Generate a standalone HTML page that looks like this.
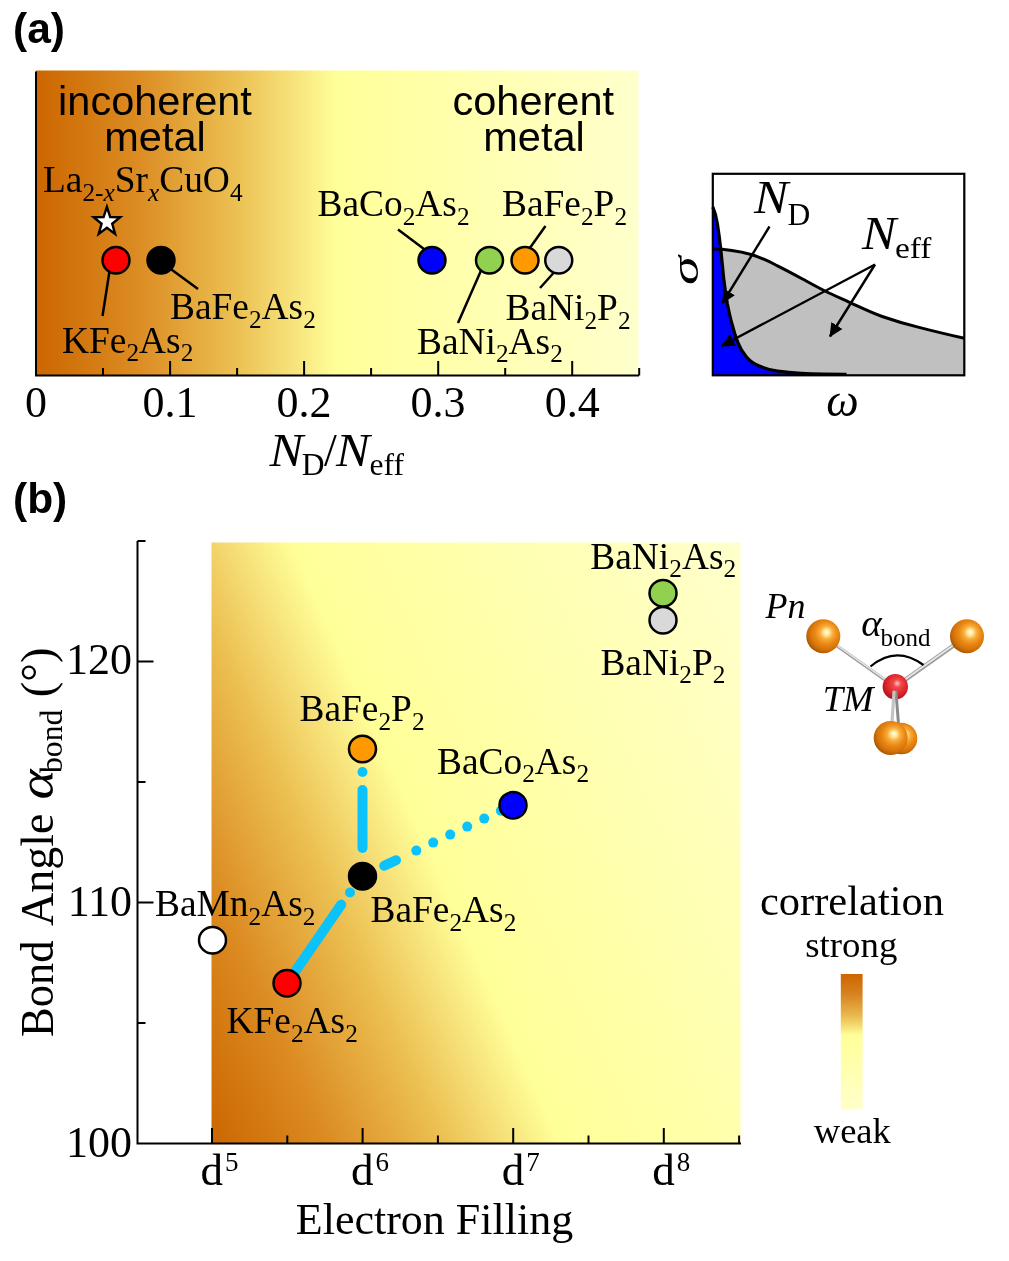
<!DOCTYPE html>
<html lang="en"><head><meta charset="utf-8"><title>Figure</title>
<style>
html,body{margin:0;padding:0;background:#fff}
svg{display:block}
text{font-family:'Liberation Serif', 'DejaVu Serif', serif;fill:#000}
.sans{font-family:'Liberation Sans', 'DejaVu Sans', sans-serif}
</style></head><body>
<svg width="1009" height="1261" viewBox="0 0 1009 1261">
<defs>
<linearGradient id="gA" gradientUnits="userSpaceOnUse" x1="36" y1="0" x2="638.5" y2="0"><stop offset="0" stop-color="#cc6600"/><stop offset="0.166" stop-color="#db8b22"/><stop offset="0.333" stop-color="#ecc052"/><stop offset="0.42" stop-color="#f6e078"/><stop offset="0.5" stop-color="#ffff99"/><stop offset="1" stop-color="#ffffcc"/></linearGradient>
<linearGradient id="gB" gradientUnits="userSpaceOnUse" x1="211.5" y1="1143.5" x2="875.9" y2="846.3"><stop offset="0.0000" stop-color="#cc6600"/><stop offset="0.1454" stop-color="#db8b22"/><stop offset="0.2917" stop-color="#ecc052"/><stop offset="0.3679" stop-color="#f6e078"/><stop offset="0.4380" stop-color="#ffff99"/><stop offset="1.0000" stop-color="#ffffcc"/></linearGradient>
<linearGradient id="gL" x1="0" y1="0" x2="0" y2="1"><stop offset="0" stop-color="#cc6600"/><stop offset="0.15" stop-color="#d78220"/><stop offset="0.3" stop-color="#e8b64c"/><stop offset="0.38" stop-color="#f4da72"/><stop offset="0.45" stop-color="#ffff99"/><stop offset="1" stop-color="#ffffcc"/></linearGradient>
<radialGradient id="sO" cx="0.58" cy="0.42" r="0.64" fx="0.6" fy="0.38">
<stop offset="0" stop-color="#fffde8"/><stop offset="0.13" stop-color="#ffe99c"/><stop offset="0.3" stop-color="#f8ac3a"/><stop offset="0.52" stop-color="#ea8814"/><stop offset="0.76" stop-color="#d4720a"/><stop offset="0.92" stop-color="#ae5a04"/><stop offset="1" stop-color="#884602"/></radialGradient>
<radialGradient id="sR" cx="0.55" cy="0.42" r="0.62" fx="0.58" fy="0.36">
<stop offset="0" stop-color="#ffc0c0"/><stop offset="0.25" stop-color="#f04848"/><stop offset="0.7" stop-color="#d82028"/><stop offset="1" stop-color="#a01018"/></radialGradient>
<marker id="ah" viewBox="0 0 14 14" refX="13" refY="7" markerWidth="14" markerHeight="14" markerUnits="userSpaceOnUse" orient="auto"><path d="M0,0.5 L14,7 L0,13.5 Z" fill="#000"/></marker>
</defs>
<rect x="0" y="0" width="1009" height="1261" fill="#fff"/>
<text class="sans" x="13" y="43" font-size="42.5" font-weight="bold">(a)</text>
<rect x="36" y="70.5" width="602.5" height="305.0" fill="url(#gA)"/>
<path d="M36,71.5 V375.5 H639.0" fill="none" stroke="#000" stroke-width="2"/>
<path d="M103.0,375.5 v-7.5 M170.1,375.5 v-14.5 M237.1,375.5 v-7.5 M304.1,375.5 v-14.5 M371.1,375.5 v-7.5 M438.2,375.5 v-14.5 M505.2,375.5 v-7.5 M572.2,375.5 v-14.5 M639.2,375.5 v-7.5 " stroke="#000" stroke-width="2" fill="none"/>
<text x="36.0" y="416.5" font-size="44" text-anchor="middle">0</text>
<text x="170.1" y="416.5" font-size="44" text-anchor="middle">0.1</text>
<text x="304.1" y="416.5" font-size="44" text-anchor="middle">0.2</text>
<text x="438.1" y="416.5" font-size="44" text-anchor="middle">0.3</text>
<text x="572.2" y="416.5" font-size="44" text-anchor="middle">0.4</text>
<text x="269.5" y="465.8" font-size="46" font-style="italic" textLength="33.7" lengthAdjust="spacingAndGlyphs" >N</text>
<text x="301.7" y="475.3" font-size="31.5" >D</text>
<text x="324" y="465.8" font-size="46" >/</text>
<text x="336" y="465.8" font-size="46" font-style="italic" textLength="33.7" lengthAdjust="spacingAndGlyphs" >N</text>
<text x="369.6" y="475.3" font-size="31.5" >eff</text>
<text class="sans" x="155" y="114.5" font-size="41.5" text-anchor="middle">incoherent</text>
<text class="sans" x="155" y="150.5" font-size="41.5" text-anchor="middle">metal</text>
<text class="sans" x="533.3" y="114.5" font-size="41.5" text-anchor="middle">coherent</text>
<text class="sans" x="534" y="150.5" font-size="41.5" text-anchor="middle">metal</text>
<line x1="110" y1="268" x2="102.5" y2="316" stroke="#000" stroke-width="2.5" />
<line x1="168" y1="267" x2="198" y2="289" stroke="#000" stroke-width="2.5" />
<line x1="398" y1="229.5" x2="428" y2="252" stroke="#000" stroke-width="2.5" />
<line x1="483" y1="266" x2="458" y2="323" stroke="#000" stroke-width="2.5" />
<line x1="527" y1="252" x2="545.5" y2="226" stroke="#000" stroke-width="2.5" />
<line x1="558" y1="268" x2="540" y2="288" stroke="#000" stroke-width="2.5" />
<ellipse cx="116" cy="260.3" rx="13.5" ry="13.2" fill="#ff0000" stroke="#000" stroke-width="2.5"/>
<ellipse cx="161" cy="260.3" rx="13.5" ry="13.2" fill="#000000" stroke="#000" stroke-width="2.5"/>
<ellipse cx="432" cy="260.3" rx="13.5" ry="13.2" fill="#0000ff" stroke="#000" stroke-width="2.5"/>
<ellipse cx="489.5" cy="260.3" rx="13.5" ry="13.2" fill="#92d050" stroke="#000" stroke-width="2.5"/>
<ellipse cx="525" cy="260.3" rx="13.5" ry="13.2" fill="#ff9900" stroke="#000" stroke-width="2.5"/>
<ellipse cx="558.75" cy="260.3" rx="13.5" ry="13.2" fill="#d9d9d9" stroke="#000" stroke-width="2.5"/>
<polygon points="106.9,206.8 110.2,217.0 120.2,217.2 112.2,223.7 115.1,233.9 106.9,227.8 98.7,233.9 101.6,223.7 93.6,217.2 103.6,217.0" fill="#fff" stroke="#000" stroke-width="2.4" stroke-linejoin="miter"/>
<text x="43" y="192" font-size="37.4" text-anchor="start" ><tspan>La</tspan><tspan dy="8.5" font-size="25.3">2-</tspan><tspan font-size="25.3" font-style="italic">x</tspan><tspan dy="-8.5" font-size="37.4">Sr</tspan><tspan dy="8.5" font-size="25.3" font-style="italic">x</tspan><tspan dy="-8.5" font-size="37.4">CuO</tspan><tspan dy="8.5" font-size="25.3">4</tspan></text>
<text x="62" y="352.5" font-size="37.4" text-anchor="start" ><tspan>KFe</tspan><tspan dy="8.5" font-size="25.3">2</tspan><tspan dy="-8.5" font-size="37.4">As</tspan><tspan dy="8.5" font-size="25.3">2</tspan></text>
<text x="170" y="319" font-size="37.4" text-anchor="start" ><tspan>BaFe</tspan><tspan dy="8.5" font-size="25.3">2</tspan><tspan dy="-8.5" font-size="37.4">As</tspan><tspan dy="8.5" font-size="25.3">2</tspan></text>
<text x="317.5" y="216" font-size="37.4" text-anchor="start" ><tspan>BaCo</tspan><tspan dy="8.5" font-size="25.3">2</tspan><tspan dy="-8.5" font-size="37.4">As</tspan><tspan dy="8.5" font-size="25.3">2</tspan></text>
<text x="502" y="216" font-size="37.4" text-anchor="start" ><tspan>BaFe</tspan><tspan dy="8.5" font-size="25.3">2</tspan><tspan dy="-8.5" font-size="37.4">P</tspan><tspan dy="8.5" font-size="25.3">2</tspan></text>
<text x="505.5" y="320" font-size="37.4" text-anchor="start" ><tspan>BaNi</tspan><tspan dy="8.5" font-size="25.3">2</tspan><tspan dy="-8.5" font-size="37.4">P</tspan><tspan dy="8.5" font-size="25.3">2</tspan></text>
<text x="417" y="353.5" font-size="37.4" text-anchor="start" ><tspan>BaNi</tspan><tspan dy="8.5" font-size="25.3">2</tspan><tspan dy="-8.5" font-size="37.4">As</tspan><tspan dy="8.5" font-size="25.3">2</tspan></text>
<rect x="712.8" y="173.8" width="251.5" height="201.5" fill="#fff"/>
<path d="M712.8,249 C722,249 735,250 752,254.8 C764,258.5 770,262 777.5,265.8 C790,272 797,276 806.7,281.3 C815,286 818,287.5 825,291 C834,295.5 840,298 849,302.1 C860,307 870,312 882.2,316.5 C895,321 905,324 920,327.6 C935,331.5 950,335 964.3,338.3 L964.3,375.3 L712.8,375.3 Z" fill="#c0c0c0"/>
<path d="M712.8,207 C715,212 716.5,218 717.4,223.8 C719,234 720,242 721,251.2 C722,261 722.8,270 723.7,278.5 C724.8,288 726,296 727.4,304 C728.8,311 730,317 732,324 C733.5,330 735.5,336.5 737.8,342.4 C740,348 743,353 746.5,357 C750,361 754,364 759.3,366 C765,368.5 770,370 777.5,371.2 C785,372.3 793,373 801.3,373.4 C815,374 830,374.3 846.5,374.3 L846.5,375.3 L712.8,375.3 Z" fill="#0000ff"/>
<path d="M712.8,249 C722,249 735,250 752,254.8 C764,258.5 770,262 777.5,265.8 C790,272 797,276 806.7,281.3 C815,286 818,287.5 825,291 C834,295.5 840,298 849,302.1 C860,307 870,312 882.2,316.5 C895,321 905,324 920,327.6 C935,331.5 950,335 964.3,338.3" fill="none" stroke="#000" stroke-width="3"/>
<path d="M712.8,207 C715,212 716.5,218 717.4,223.8 C719,234 720,242 721,251.2 C722,261 722.8,270 723.7,278.5 C724.8,288 726,296 727.4,304 C728.8,311 730,317 732,324 C733.5,330 735.5,336.5 737.8,342.4 C740,348 743,353 746.5,357 C750,361 754,364 759.3,366 C765,368.5 770,370 777.5,371.2 C785,372.3 793,373 801.3,373.4 C815,374 830,374.3 846.5,374.3" fill="none" stroke="#000" stroke-width="3.2"/>
<rect x="712.8" y="173.8" width="251.5" height="201.5" fill="none" stroke="#000" stroke-width="2.2"/>
<line x1="769.5" y1="226.5" x2="722.5" y2="303" stroke="#000" stroke-width="2.4" marker-end="url(#ah)"/>
<line x1="875" y1="264.5" x2="721.5" y2="346" stroke="#000" stroke-width="2.4" marker-end="url(#ah)"/>
<line x1="875" y1="264.5" x2="830" y2="336.5" stroke="#000" stroke-width="2.4" marker-end="url(#ah)"/>
<text x="754" y="212.8" font-size="47" font-style="italic" textLength="34.2" lengthAdjust="spacingAndGlyphs" >N</text>
<text x="787.4" y="225" font-size="31.5" >D</text>
<text x="862" y="248.7" font-size="47" font-style="italic" textLength="34.2" lengthAdjust="spacingAndGlyphs" >N</text>
<text x="895" y="258.4" font-size="30" textLength="36.5" lengthAdjust="spacingAndGlyphs" >eff</text>
<text x="842.4" y="416.2" font-size="46" font-style="italic" text-anchor="middle">ω</text>
<text transform="translate(698,270.5) rotate(-90) scale(1.27,0.84)" font-size="46" font-style="italic" text-anchor="middle">σ</text>
<text class="sans" x="13" y="513" font-size="42.5" font-weight="bold">(b)</text>
<rect x="211.5" y="542.5" width="529.0" height="601.0" fill="url(#gB)"/>
<path d="M137.5,541 V1143.5 H741.0" fill="none" stroke="#000" stroke-width="2"/>
<path d="M137.5,1023.0 h8 M137.5,902.5 h16 M137.5,782.0 h8 M137.5,661.5 h16 M137.5,541.0 h8 M212.0,1143.5 v-15.5 M287.3,1143.5 v-8 M362.6,1143.5 v-15.5 M437.9,1143.5 v-8 M513.2,1143.5 v-15.5 M588.5,1143.5 v-8 M663.8,1143.5 v-15.5 M739.1,1143.5 v-8 " stroke="#000" stroke-width="2" fill="none"/>
<text x="132" y="673.5" font-size="44" text-anchor="end">120</text>
<text x="132" y="915.5" font-size="44" text-anchor="end">110</text>
<text x="132" y="1157" font-size="44" text-anchor="end">100</text>
<text x="200.5" y="1185" font-size="45">d<tspan dy="-14" font-size="27" dx="2">5</tspan></text>
<text x="351.1" y="1185" font-size="45">d<tspan dy="-14" font-size="27" dx="2">6</tspan></text>
<text x="501.7" y="1185" font-size="45">d<tspan dy="-14" font-size="27" dx="2">7</tspan></text>
<text x="652.3" y="1185" font-size="45">d<tspan dy="-14" font-size="27" dx="2">8</tspan></text>
<text x="434.5" y="1233.5" font-size="44" text-anchor="middle">Electron Filling</text>
<g transform="translate(52.5,1036.5) rotate(-90)" font-size="46"><text x="-0.5" y="0" textLength="96.5" lengthAdjust="spacingAndGlyphs">Bond</text><text x="110.6" y="0">Angle</text><text x="237" y="0" font-size="50" font-style="italic" textLength="30" lengthAdjust="spacingAndGlyphs">α</text><text x="263.5" y="9" font-size="31.7">bond</text><text x="339.3" y="0" font-size="46.5">(°)</text></g>
<circle cx="362.5" cy="772.0" r="5" fill="#0cc2fa"/>
<line x1="362.5" y1="790.0" x2="362.5" y2="848.0" stroke="#0cc2fa" stroke-width="10" stroke-linecap="round"/>
<circle cx="350.0" cy="892.5" r="5" fill="#0cc2fa"/>
<line x1="341.2" y1="904.6" x2="290.0" y2="979.0" stroke="#0cc2fa" stroke-width="10" stroke-linecap="round"/>
<line x1="384.2" y1="865.8" x2="396.0" y2="860.2" stroke="#0cc2fa" stroke-width="10" stroke-linecap="round"/>
<circle cx="416.3" cy="850.6" r="5" fill="#0cc2fa"/>
<circle cx="433.2" cy="842.6" r="5" fill="#0cc2fa"/>
<circle cx="450.2" cy="834.6" r="5" fill="#0cc2fa"/>
<circle cx="467.2" cy="826.6" r="5" fill="#0cc2fa"/>
<circle cx="484.2" cy="818.6" r="5" fill="#0cc2fa"/>
<circle cx="500.9" cy="810.7" r="5" fill="#0cc2fa"/>
<ellipse cx="212.5" cy="940.3" rx="13.5" ry="13.2" fill="#ffffff" stroke="#000" stroke-width="2.5"/>
<ellipse cx="287" cy="983.3" rx="13.5" ry="13.2" fill="#ff0000" stroke="#000" stroke-width="2.5"/>
<ellipse cx="362.5" cy="876.3" rx="13.5" ry="13.2" fill="#000000" stroke="#000" stroke-width="2.5"/>
<ellipse cx="362.5" cy="749.05" rx="13.5" ry="13.2" fill="#ff9900" stroke="#000" stroke-width="2.5"/>
<ellipse cx="513" cy="805.3" rx="13.5" ry="13.2" fill="#0000ff" stroke="#000" stroke-width="2.5"/>
<ellipse cx="663" cy="620.3" rx="13.5" ry="13.2" fill="#d9d9d9" stroke="#000" stroke-width="2.5"/>
<ellipse cx="663" cy="593.3" rx="13.5" ry="13.2" fill="#92d050" stroke="#000" stroke-width="2.5"/>
<text x="155" y="916" font-size="37.4" text-anchor="start" ><tspan>BaMn</tspan><tspan dy="8.5" font-size="25.3">2</tspan><tspan dy="-8.5" font-size="37.4">As</tspan><tspan dy="8.5" font-size="25.3">2</tspan></text>
<text x="226.5" y="1033" font-size="37.4" text-anchor="start" ><tspan>KFe</tspan><tspan dy="8.5" font-size="25.3">2</tspan><tspan dy="-8.5" font-size="37.4">As</tspan><tspan dy="8.5" font-size="25.3">2</tspan></text>
<text x="370.5" y="922" font-size="37.4" text-anchor="start" ><tspan>BaFe</tspan><tspan dy="8.5" font-size="25.3">2</tspan><tspan dy="-8.5" font-size="37.4">As</tspan><tspan dy="8.5" font-size="25.3">2</tspan></text>
<text x="299.5" y="721" font-size="37.4" text-anchor="start" ><tspan>BaFe</tspan><tspan dy="8.5" font-size="25.3">2</tspan><tspan dy="-8.5" font-size="37.4">P</tspan><tspan dy="8.5" font-size="25.3">2</tspan></text>
<text x="437" y="773.75" font-size="37.4" text-anchor="start" ><tspan>BaCo</tspan><tspan dy="8.5" font-size="25.3">2</tspan><tspan dy="-8.5" font-size="37.4">As</tspan><tspan dy="8.5" font-size="25.3">2</tspan></text>
<text x="590.3" y="568.7" font-size="37.4" text-anchor="start" ><tspan>BaNi</tspan><tspan dy="8.5" font-size="25.3">2</tspan><tspan dy="-8.5" font-size="37.4">As</tspan><tspan dy="8.5" font-size="25.3">2</tspan></text>
<text x="600.4" y="674.6" font-size="37.4" text-anchor="start" ><tspan>BaNi</tspan><tspan dy="8.5" font-size="25.3">2</tspan><tspan dy="-8.5" font-size="37.4">P</tspan><tspan dy="8.5" font-size="25.3">2</tspan></text>
<line x1="823" y1="636" x2="895" y2="687" stroke="#9c9c9c" stroke-width="3.2" stroke-linecap="round"/>
<line x1="823" y1="635.4" x2="895" y2="686.4" stroke="#e6e6e6" stroke-width="1.34" stroke-linecap="round"/>
<line x1="967" y1="636" x2="895" y2="687" stroke="#9c9c9c" stroke-width="4.4" stroke-linecap="round"/>
<line x1="967" y1="635.4" x2="895" y2="686.4" stroke="#e6e6e6" stroke-width="1.85" stroke-linecap="round"/>
<circle cx="823.3" cy="636.3" r="17" fill="url(#sO)"/>
<circle cx="967" cy="636.3" r="17" fill="url(#sO)"/>
<circle cx="895.3" cy="686.8" r="12.7" fill="url(#sR)"/>
<line x1="896" y1="692" x2="898.5" y2="724" stroke="#8a8a8a" stroke-width="3" stroke-linecap="round"/>
<line x1="894" y1="692" x2="892" y2="722" stroke="#c4c4c4" stroke-width="3.2" stroke-linecap="round"/>
<circle cx="901.5" cy="738.5" r="15.8" fill="url(#sO)"/>
<circle cx="890.7" cy="738" r="17" fill="url(#sO)"/>
<path d="M870.5,666.5 Q896,645 923.5,665" fill="none" stroke="#000" stroke-width="2.2"/>
<text x="765.5" y="617.5" font-size="36" font-style="italic">Pn</text>
<text x="822.8" y="711.3" font-size="36.5" font-style="italic">TM</text>
<text x="861.3" y="636.3" font-size="37" font-style="italic" textLength="20.5" lengthAdjust="spacingAndGlyphs" >α</text>
<text x="880.5" y="646.3" font-size="25" >bond</text>
<text x="852" y="914.5" font-size="42.5" text-anchor="middle">correlation</text>
<text x="851.3" y="956.5" font-size="36.8" text-anchor="middle">strong</text>
<rect x="840.8" y="974" width="21.8" height="135.3" fill="url(#gL)"/>
<text x="852.3" y="1142.6" font-size="36.5" text-anchor="middle">weak</text>
</svg></body></html>
